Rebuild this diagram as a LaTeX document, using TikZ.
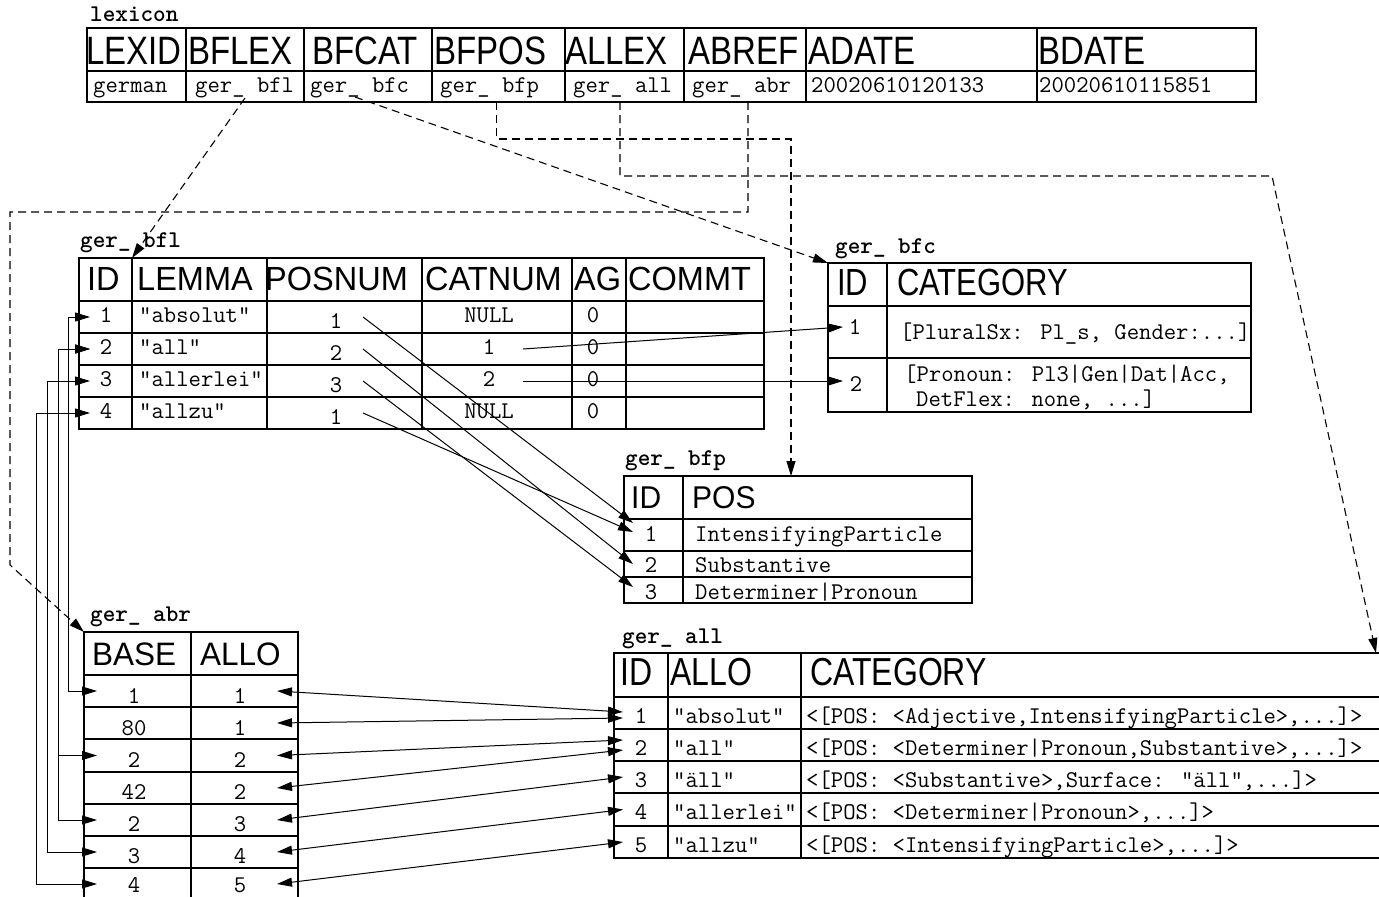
\documentclass[tikz,border=0pt]{standalone}
\usepackage{fontspec}
\usepackage{graphicx}
\newfontfamily\hsf{Liberation Sans}
\usetikzlibrary{arrows.meta}
\tikzset{
  tcell/.style={draw, line width=1.2pt, inner sep=0pt, outer sep=0pt, rectangle},
  dt/.style={inner sep=0pt, anchor=base, font=\ttfamily\fontsize{24}{24}\selectfont},
  dtl/.style={dt, anchor=base west},
  lbl/.style={inner sep=0pt, anchor=base west, font=\ttfamily\bfseries\fontsize{24}{24}\selectfont},
  hd/.style={inner sep=0pt, anchor=base west},
  conn/.style={line width=1pt, -{Triangle[length=15pt,width=9pt]}},
  conntwo/.style={line width=1pt, {Triangle[length=15pt,width=9pt]}-{Triangle[length=15pt,width=9pt]}},
  dconn/.style={conn, line width=1.1pt, dash pattern=on 8pt off 5pt},
  thick line/.style={line width=2pt},
}
\newcommand\HD[3]{{\hsf\fontsize{#1}{#1}\selectfont\scalebox{1}[#2]{#3}}}
\newcommand\tgrid[3]{%
  \foreach \ya/\yb [count=\r] in {#3}{%
    \foreach \xa/\xb [count=\c] in {#2}{%
      \node[tcell,minimum width={(\xb-\xa)*1pt},minimum height={(\yb-\ya)*1pt}] (#1-\r-\c) at ({(\xa+\xb)/2},{(\ya+\yb)/2}) {};
    }}}
\begin{document}
\begin{tikzpicture}[x=1pt,y=-1pt]
\useasboundingbox (0,0) rectangle (1379,897);
\clip (0,0) rectangle (1379,897);
\fill[white] (0,0) rectangle (1379,897);

% ---------------- lexicon
\node[lbl] (lexlbl) at (90,21) {lexicon};
\tgrid{lex}{87/186,186/304,304/432,432/565,565/684,684/806,806/1037,1037/1256}{28/71,71/102}
\foreach \x/\t [count=\i] in {86/LEXID,188/BFLEX,312/BFCAT,434/BFPOS,565/ALLEX,688/ABREF,808/ADATE,1038/BDATE}
  \node[hd] (lexh\i) at (\x,64) {\HD{33}{1.2}{\t}};
\foreach \x/\t [count=\i] in {93/german,195/ger\_ bfl,310/ger\_ bfc,440/ger\_ bfp,573/ger\_ all,692/ger\_ abr,811/20020610120133,1039/20020610115851}
  \node[dtl] (lexd\i) at (\x,92) {\t};

% ---------------- ger_ bfl
\node[lbl] (bfllbl) at (80,247) {ger\_ bfl};
\tgrid{bfl}{79/132,132/267,267/422,422/572,572/626,626/764}{258/301,301/333,333/365,365/397,397/429}
\draw[thick line] (bfl-1-6.north west) -- (bfl-5-6.south west);
\foreach \x/\t [count=\i] in {87/ID,137/LEMMA,265/POSNUM,425/CATNUM,574/AG,628/COMMT}
  \node[hd] (bflh\i) at (\x,290) {\HD{32.5}{1.03}{\t}};
\foreach \y/\a/\b/\p/\c [count=\i] in {322/1/"absolut"/1/NULL,354/2/"all"/2/1,386/3/"allerlei"/3/2,418/4/"allzu"/1/NULL}{
  \node[dt] (bfli\i) at (106,\y) {\a};
  \node[dtl] (bfll\i) at (139,\y) {\b};
  \node[dt] (bflp\i) at (336,{\y+6}) {\p};
  \node[dt] (bflc\i) at (489,\y) {\c};
  \node[dt] (bfla\i) at (593,\y) {0};
}

% ---------------- ger_ bfc
\node[lbl] (bfclbl) at (835,253) {ger\_ bfc};
\tgrid{bfc}{828/887,887/1251}{263/306,306/358,358/412}
\draw[thick line] (bfc-1-1.south west) -- (bfc-1-2.south east);
\node[hd] (bfch1) at (837,295) {\HD{31}{1.22}{ID}};
\node[hd] (bfch2) at (897,295) {\HD{31}{1.22}{CATEGORY}};
\node[dt] (bfci1) at (855,334) {1};
\node[dtl] (bfcc1) at (900,339) {[PluralSx: Pl\_s, Gender:...]};
\node[dt] (bfci2) at (856,391) {2};
\node[dtl] (bfcc2) at (904,381) {[Pronoun: Pl3|Gen|Dat|Acc,};
\node[dtl] (bfcc3) at (916,406) {DetFlex: none, ...]};

% ---------------- ger_ bfp
\node[lbl] (bfplbl) at (625,465) {ger\_ bfp};
\tgrid{bfp}{624/683,683/972}{476/519,519/551,551/577,577/603}
\draw[thick line] (bfp-1-1.south west) -- (bfp-1-2.south east);
\node[hd] (bfph1) at (631,508) {\HD{30}{1.05}{ID}};
\node[hd] (bfph2) at (692,508) {\HD{30}{1.05}{POS}};
\foreach \y/\a/\b [count=\i] in {541/1/IntensifyingParticle,572/2/Substantive,599/3/Determiner|Pronoun}{
  \node[dt] (bfpi\i) at (651,\y) {\a};
  \node[dtl] (bfpt\i) at (695,\y) {\b};
}

% ---------------- ger_ all
\node[lbl] (alllbl) at (622,643) {ger\_ all};
\tgrid{all}{614/668,668/801,801/1420}{653/697,697/729,729/761,761/793,793/826,826/858}
\draw[thick line] (all-1-1.south west) -- (all-1-3.south east);
\node[hd] (allh1) at (620,685) {\HD{32}{1.22}{ID}};
\node[hd] (allh2) at (670,685) {\HD{32}{1.22}{ALLO}};
\node[hd] (allh3) at (810,685) {\HD{32}{1.22}{CATEGORY}};
\node[dt] (alli1) at (641,723) {1};
\node[dtl] (alla1) at (673,723) {"absolut"};
\node[dtl] (allc1) at (806,723) {<[POS: <Adjective,IntensifyingParticle>,...]>};
\node[dt] (alli2) at (641,755) {2};
\node[dtl] (alla2) at (673,755) {"all"};
\node[dtl] (allc2) at (806,755) {<[POS: <Determiner|Pronoun,Substantive>,...]>};
\node[dt] (alli3) at (641,787) {3};
\node[dtl] (alla3) at (673,787) {"äll"};
\node[dtl] (allc3) at (806,787) {<[POS: <Substantive>,Surface: "äll",...]>};
\node[dt] (alli4) at (641,819) {4};
\node[dtl] (alla4) at (673,819) {"allerlei"};
\node[dtl] (allc4) at (806,819) {<[POS: <Determiner|Pronoun>,...]>};
\node[dt] (alli5) at (641,852) {5};
\node[dtl] (alla5) at (673,852) {"allzu"};
\node[dtl] (allc5) at (806,852) {<[POS: <IntensifyingParticle>,...]>};

% ---------------- ger_ abr
\node[lbl] (abrlbl) at (90,621) {ger\_ abr};
\tgrid{abr}{84/191,191/298}{632/675,675/707,707/739,739/772,772/804,804/836,836/868,868/910}
\node[hd] (abrh1) at (92,665) {\HD{31.5}{1.03}{BASE}};
\node[hd] (abrh2) at (200,665) {\HD{31.5}{1.03}{ALLO}};
\foreach \y/\a/\b [count=\i] in {703/1/1,735/80/1,767/2/2,799/42/2,831/2/3,863/3/4,892/4/5}{
  \node[dt] (abrb\i) at (134,\y) {\a};
  \node[dt] (abra\i) at (240,\y) {\b};
}

% ---------------- connectors bfl <-> abr
\draw[conntwo] ([xshift=13pt]abr-2-1.west) -- ++(-29,0) |- ([xshift=11pt]bfl-2-1.west);
\draw[conntwo] ([xshift=13pt]abr-4-1.west) -- ++(-39,0) |- ([xshift=11pt]bfl-3-1.west);
\draw[conntwo] ([xshift=13pt]abr-6-1.west) -- ++(-39,0) |- ([xshift=11pt]bfl-3-1.west);
\draw[conntwo] ([xshift=13pt]abr-7-1.west) -- ++(-50,0) |- ([xshift=11pt]bfl-4-1.west);
\draw[conntwo] ([xshift=13pt,yshift=5pt]abr-8-1.west) -- ++(-61,0) |- ([xshift=11pt]bfl-5-1.west);

% ---------------- connectors abr <-> all
\draw[conntwo] ([xshift=-21pt]abr-2-2.east) -- ([xshift=9pt,yshift=1pt]all-2-1.west);
\draw[conntwo] ([xshift=-21pt]abr-3-2.east) -- ([xshift=9pt,yshift=-5pt]all-2-1.west);
\draw[conntwo] ([xshift=-21pt]abr-4-2.east) -- ([xshift=9pt,yshift=5pt]all-3-1.west);
\draw[conntwo] ([xshift=-21pt]abr-5-2.east) -- ([xshift=9pt,yshift=-5pt]all-3-1.west);
\draw[conntwo] ([xshift=-21pt]abr-6-2.east) -- ([xshift=9pt]all-4-1.west);
\draw[conntwo] ([xshift=-21pt]abr-7-2.east) -- ([xshift=9pt]all-5-1.west);
\draw[conntwo] ([xshift=-21pt,yshift=5pt]abr-8-2.east) -- ([xshift=9pt]all-6-1.west);

% ---------------- connectors bfl POSNUM -> bfp
\draw[conn] ([xshift=96pt]bfl-2-3.west) -- ([xshift=9pt,yshift=12pt]bfp-2-1.west);
\draw[conn] ([xshift=96pt]bfl-3-3.west) -- ([xshift=9pt]bfp-3-1.west);
\draw[conn] ([xshift=96pt]bfl-4-3.west) -- ([xshift=9pt,yshift=3pt]bfp-4-1.west);
\draw[conn] ([xshift=96pt]bfl-5-3.west) -- ([xshift=9pt,yshift=3pt]bfp-2-1.west);

% ---------------- connectors bfl CATNUM -> bfc
\draw[conn] ([xshift=101pt]bfl-3-4.west) -- ([xshift=15pt,yshift=5pt]bfc-2-1.west);
\draw[conn] ([xshift=101pt]bfl-4-4.west) -- ([xshift=15pt,yshift=4pt]bfc-3-1.west);

% ---------------- dashed connectors from lexicon
\draw[dconn] ([yshift=4pt]lex-2-2.south) -- (bfl-1-1.north east);
\draw[dconn] ([xshift=-13pt,yshift=5pt]lex-2-3.south) -- (bfc-1-1.north west);
\draw[dconn] ([xshift=-2pt]lex-2-4.south) -- ++(0,37) -| ([xshift=-36.5pt]bfp-1-2.north);
\coordinate (allbend) at (1272,176);
\draw[dconn] ([xshift=-4.5pt]lex-2-5.south) -- ++(0,74) -- (allbend) -- ([xshift=-44pt]all-1-3.north east);
\draw[dconn] ([xshift=3pt]lex-2-6.south) -- ++(0,110) -- ++(-738,0) -- ++(0,353) -- (abr-1-1.north west);
\end{tikzpicture}
\end{document}
